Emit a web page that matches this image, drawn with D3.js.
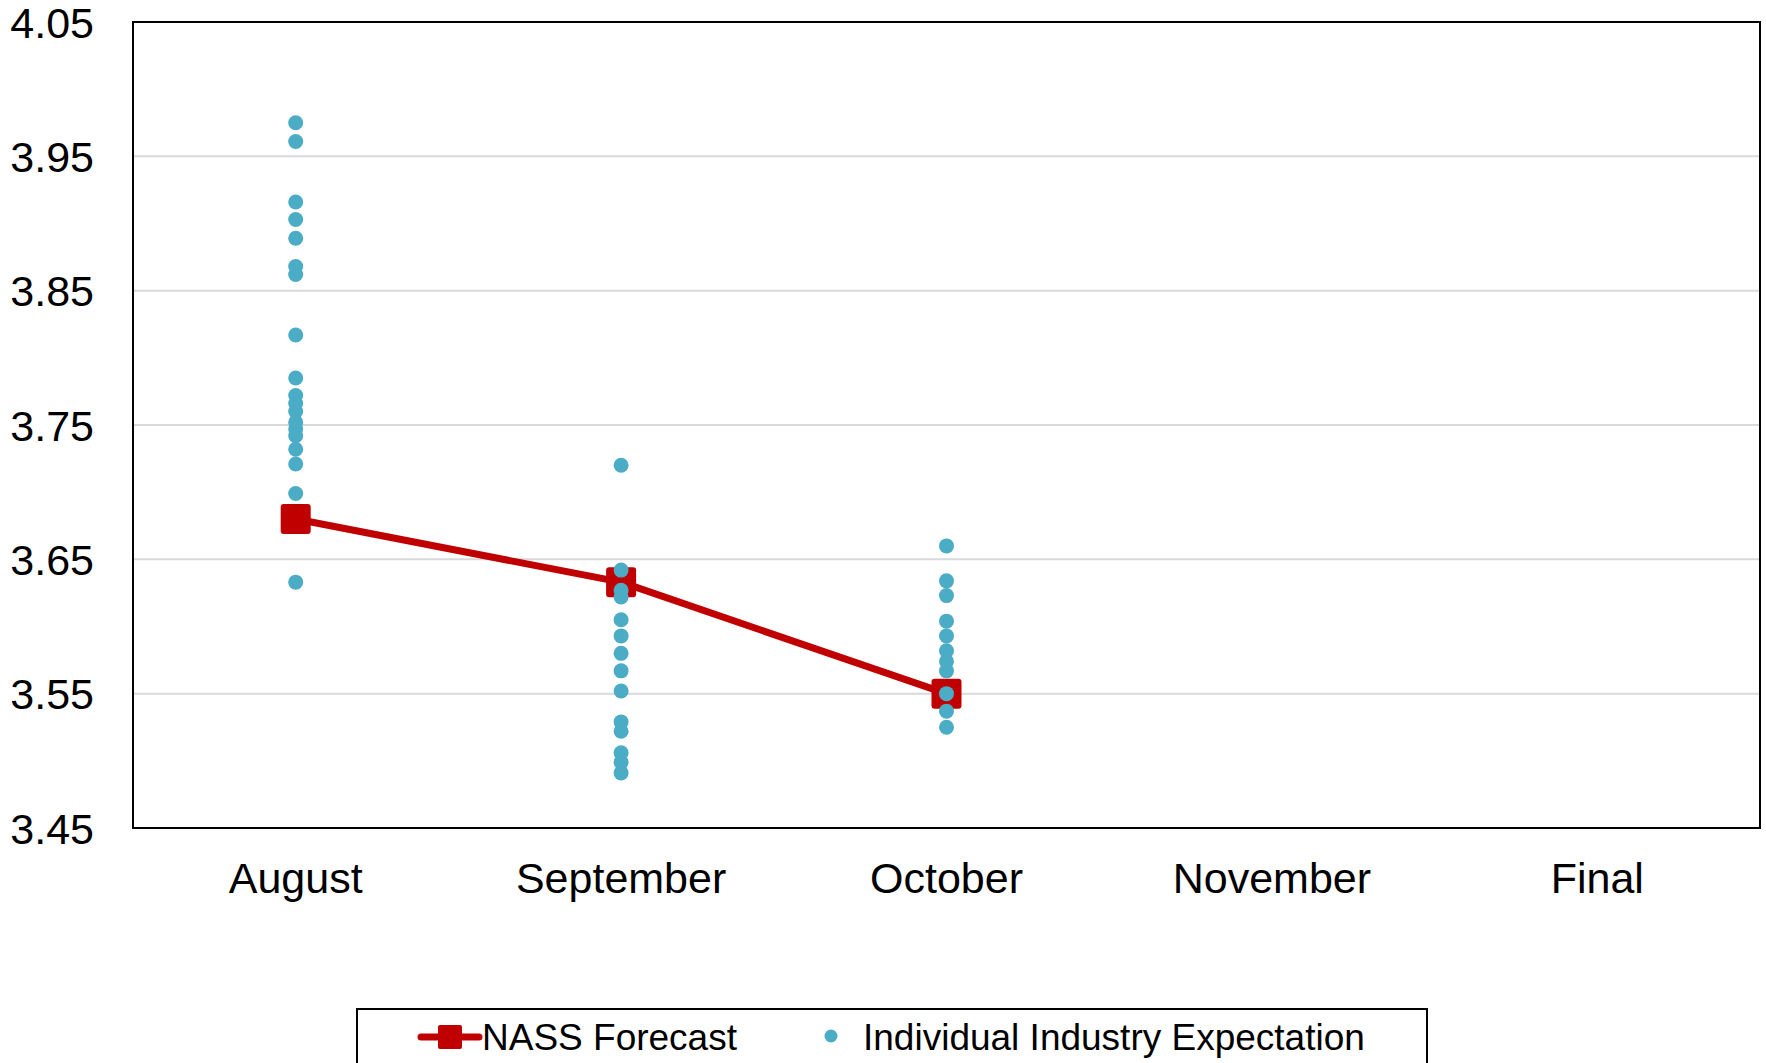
<!DOCTYPE html>
<html>
<head>
<meta charset="utf-8">
<script src="https://cdn.jsdelivr.net/npm/d3@7"></script>
<style>
  html, body { margin: 0; padding: 0; background: #fff; }
  svg { display: block; font-family: "Liberation Sans", Arial, sans-serif; }
</style>
</head>
<body>
<svg id="chart" width="1766" height="1063"></svg>
<script>
const categories = ["August", "September", "October", "November", "Final"];
const yTicks = [3.45, 3.55, 3.65, 3.75, 3.85, 3.95, 4.05];
const nassMonths = ["August", "September", "October"];
const nassValues = [3.680, 3.633, 3.550];
const augustExpect = [3.975, 3.961, 3.916, 3.903, 3.889, 3.868, 3.862, 3.817, 3.785, 3.772, 3.766, 3.760, 3.752, 3.747, 3.742, 3.732, 3.721, 3.699, 3.633];
const septemberExpect = [3.720, 3.642, 3.627, 3.622, 3.605, 3.593, 3.580, 3.567, 3.552, 3.529, 3.522, 3.506, 3.499, 3.491];
const octoberExpect = [3.660, 3.634, 3.623, 3.604, 3.593, 3.582, 3.574, 3.567, 3.550, 3.537, 3.525];
const legendLabels = ["NASS Forecast", "Individual Industry Expectation"];

(function () {
const expectations = [
  { month: "August", values: augustExpect },
  { month: "September", values: septemberExpect },
  { month: "October", values: octoberExpect }
];

const RED = "#C00000", BLUE = "#4BACC6";
const svg = d3.select("#chart");
const mLeft = 133, mRight = 1760, mTop = 22, mBottom = 828;

const x = d3.scaleBand().domain(categories).range([mLeft, mRight]).padding(0);
const y = d3.scaleLinear().domain([3.45, 4.05]).range([mBottom, mTop]);
const cx = d => x(d) + x.bandwidth() / 2;

// gridlines
svg.append("g").selectAll("line").data(yTicks.slice(1, -1)).join("line")
  .attr("x1", mLeft).attr("x2", mRight)
  .attr("y1", d => y(d)).attr("y2", d => y(d))
  .attr("stroke", "#d9d9d9").attr("stroke-width", 2);

// y axis labels
const yAxis = d3.axisLeft(y).tickValues(yTicks).tickFormat(d3.format(".2f")).tickSize(0).tickPadding(39);
const gy = svg.append("g").attr("transform", `translate(${mLeft},0)`).call(yAxis);
gy.select(".domain").remove();
gy.selectAll("text").attr("font-size", 43).attr("fill", "#000")
  .attr("font-family", "'Liberation Sans', Arial, sans-serif").attr("dy", "0.35em");

// x axis labels
const xAxis = d3.axisBottom(x).tickSize(0).tickPadding(0);
const gx = svg.append("g").attr("transform", `translate(0,${mBottom})`).call(xAxis);
gx.select(".domain").remove();
gx.selectAll("text").attr("font-size", 43).attr("fill", "#000")
  .attr("font-family", "'Liberation Sans', Arial, sans-serif")
  .attr("y", 50).attr("dy", "0.35em");

// plot border
svg.append("rect").attr("x", mLeft).attr("y", mTop).attr("width", mRight - mLeft).attr("height", mBottom - mTop)
  .attr("fill", "none").attr("stroke", "#000").attr("stroke-width", 2);

// NASS line
const nass = nassMonths.map((m, i) => ({ month: m, value: nassValues[i] }));
svg.append("path").datum(nass)
  .attr("d", d3.line().x(d => cx(d.month)).y(d => y(d.value)))
  .attr("fill", "none").attr("stroke", RED).attr("stroke-width", 7).attr("stroke-linejoin", "round");
svg.append("g").selectAll("rect").data(nass).join("rect")
  .attr("x", d => cx(d.month) - 15).attr("y", d => y(d.value) - 15)
  .attr("width", 30).attr("height", 30).attr("rx", 3)
  .attr("fill", RED);

// individual expectations
const pts = expectations.flatMap(e => e.values.map(v => ({ month: e.month, value: v })));
svg.append("g").selectAll("circle").data(pts).join("circle")
  .attr("cx", d => cx(d.month)).attr("cy", d => y(d.value)).attr("r", 7.5)
  .attr("fill", BLUE);

// legend
const lg = svg.append("g");
lg.append("rect").attr("x", 357).attr("y", 1009).attr("width", 1070).attr("height", 70)
  .attr("fill", "#fff").attr("stroke", "#000").attr("stroke-width", 2);
lg.append("line").attr("x1", 421).attr("x2", 479).attr("y1", 1037).attr("y2", 1037)
  .attr("stroke", RED).attr("stroke-width", 7).attr("stroke-linecap", "round");
lg.append("rect").attr("x", 438).attr("y", 1025).attr("width", 24).attr("height", 24).attr("rx", 2).attr("fill", RED);
lg.append("text").attr("x", 482).attr("y", 1037).attr("dy", "0.35em").attr("font-size", 37).text(legendLabels[0]);
lg.append("circle").attr("cx", 831).attr("cy", 1036).attr("r", 6.5).attr("fill", BLUE);
lg.append("text").attr("x", 863).attr("y", 1037).attr("dy", "0.35em").attr("font-size", 37).text(legendLabels[1]);
})();
</script>
</body>
</html>
